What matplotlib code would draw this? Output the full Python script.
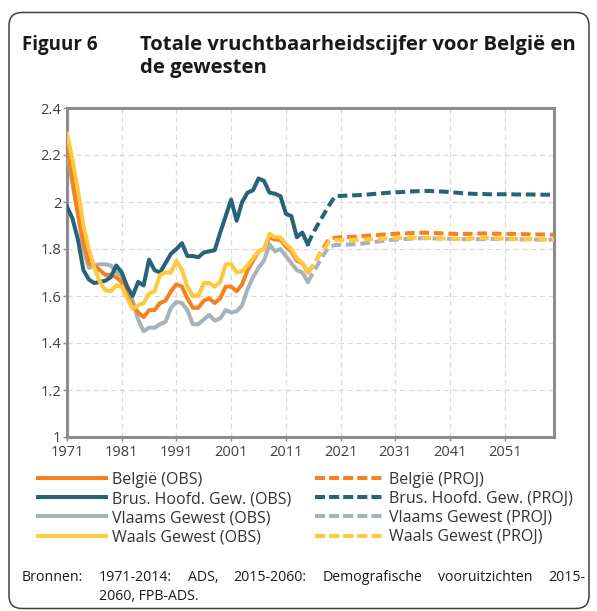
import matplotlib
matplotlib.use("Agg")
import matplotlib.pyplot as plt
from matplotlib.patches import FancyBboxPatch
from matplotlib.lines import Line2D

plt.rcParams['font.family'] = ['Open Sans', 'DejaVu Sans']

# jaren
obs_years = list(range(1971, 2016))
proj_years = list(range(2015, 2061))

# waargenomen (1971-2015)
belgie_obs = [2.25, 2.09, 1.95, 1.83, 1.74, 1.73, 1.71, 1.69, 1.69, 1.68,
              1.66, 1.61, 1.56, 1.53, 1.51, 1.54, 1.54, 1.57, 1.58, 1.62,
              1.65, 1.64, 1.59, 1.55, 1.55, 1.58, 1.59, 1.57, 1.59, 1.64,
              1.64, 1.62, 1.65, 1.71, 1.75, 1.79, 1.80, 1.85, 1.84, 1.84,
              1.81, 1.79, 1.75, 1.74, 1.70]
brussel_obs = [1.98, 1.93, 1.84, 1.71, 1.67, 1.655, 1.66, 1.665, 1.68, 1.73,
               1.70, 1.64, 1.60, 1.66, 1.645, 1.755, 1.71, 1.70, 1.74, 1.78,
               1.80, 1.825, 1.77, 1.77, 1.765, 1.785, 1.79, 1.795, 1.87, 1.94,
               2.01, 1.92, 2.00, 2.04, 2.05, 2.10, 2.09, 2.04, 2.035, 2.025,
               1.95, 1.94, 1.85, 1.87, 1.82]
vlaams_obs = [2.22, 2.08, 1.95, 1.80, 1.72, 1.73, 1.735, 1.735, 1.73, 1.70,
              1.685, 1.64, 1.58, 1.50, 1.45, 1.465, 1.465, 1.48, 1.49, 1.55,
              1.575, 1.57, 1.54, 1.48, 1.48, 1.50, 1.52, 1.495, 1.505, 1.54,
              1.53, 1.535, 1.56, 1.63, 1.68, 1.72, 1.75, 1.82, 1.79, 1.80,
              1.77, 1.74, 1.71, 1.70, 1.66]
waals_obs = [2.29, 2.18, 2.05, 1.90, 1.80, 1.72, 1.66, 1.625, 1.62, 1.645,
             1.64, 1.59, 1.545, 1.56, 1.57, 1.61, 1.62, 1.69, 1.70, 1.70,
             1.75, 1.71, 1.64, 1.60, 1.60, 1.655, 1.655, 1.64, 1.66, 1.735,
             1.735, 1.70, 1.705, 1.73, 1.76, 1.79, 1.80, 1.865, 1.85, 1.85,
             1.82, 1.80, 1.76, 1.74, 1.70]

# vooruitzichten (2015-2060)
belgie_proj = [1.70, 1.73, 1.77, 1.81, 1.845, 1.848, 1.850, 1.851, 1.852, 1.853,
               1.855, 1.857, 1.858, 1.860, 1.862, 1.863, 1.865, 1.866, 1.867, 1.868,
               1.869, 1.869, 1.869, 1.868, 1.867, 1.866, 1.865, 1.864, 1.864, 1.864,
               1.865, 1.866, 1.866, 1.866, 1.865, 1.865, 1.865, 1.864, 1.864, 1.863,
               1.863, 1.862, 1.862, 1.862, 1.861, 1.861]
brussel_proj = [1.82, 1.87, 1.91, 1.95, 1.99, 2.025, 2.026, 2.027, 2.028, 2.029,
                2.030, 2.032, 2.034, 2.036, 2.038, 2.040, 2.041, 2.042, 2.044, 2.045,
                2.046, 2.047, 2.047, 2.046, 2.045, 2.044, 2.042, 2.040, 2.038, 2.036,
                2.035, 2.034, 2.034, 2.033, 2.033, 2.033, 2.033, 2.033, 2.032, 2.032,
                2.032, 2.032, 2.031, 2.031, 2.031, 2.031]
vlaams_proj = [1.66, 1.70, 1.74, 1.78, 1.81, 1.817, 1.818, 1.819, 1.820, 1.821,
               1.823, 1.826, 1.829, 1.832, 1.835, 1.838, 1.840, 1.842, 1.843, 1.844,
               1.845, 1.846, 1.846, 1.845, 1.845, 1.844, 1.843, 1.842, 1.842, 1.842,
               1.842, 1.842, 1.842, 1.843, 1.843, 1.843, 1.843, 1.842, 1.842, 1.841,
               1.841, 1.841, 1.840, 1.840, 1.840, 1.840]
waals_proj = [1.70, 1.73, 1.77, 1.80, 1.835, 1.838, 1.838, 1.838, 1.839, 1.839,
              1.840, 1.841, 1.842, 1.843, 1.844, 1.845, 1.846, 1.847, 1.848, 1.848,
              1.848, 1.848, 1.847, 1.846, 1.845, 1.844, 1.843, 1.843, 1.843, 1.844,
              1.845, 1.846, 1.846, 1.846, 1.845, 1.845, 1.845, 1.844, 1.843, 1.843,
              1.842, 1.842, 1.841, 1.841, 1.840, 1.840]

x_ticks = list(range(1971, 2052, 10))
y_ticks = [1, 1.2, 1.4, 1.6, 1.8, 2, 2.2, 2.4]

c_bel = '#F5821F'
c_bru = '#29637A'
c_vla = '#A8B2BD'
c_waa = '#FFC83D'

fig = plt.figure(figsize=(5.97, 6.11), dpi=100)

# kader rond de figuur
box = FancyBboxPatch((0.09, 0.025), 5.80, 5.96,
                     boxstyle="round,pad=0,rounding_size=0.13",
                     transform=fig.dpi_scale_trans, fill=False,
                     edgecolor='#404040', lw=1.1)
fig.patches.append(box)

fig.text(22 / 597, 1 - 50 / 611, "Figuur 6", fontsize=13.5, fontweight='bold',
         color='#1a1a1a', va='baseline', ha='left')
fig.text(140 / 597, 1 - 50 / 611, "Totale vruchtbaarheidscijfer voor België en",
         fontsize=14.6, fontweight='bold', color='#1a1a1a', va='baseline', ha='left')
fig.text(140 / 597, 1 - 73 / 611, "de gewesten", fontsize=14.6, fontweight='bold',
         color='#1a1a1a', va='baseline', ha='left')

ax = fig.add_axes([67 / 597, 1 - 437 / 611, 487 / 597, 329 / 611])

lw = 2.9
dash = (2.4, 1.2)
ax.plot(proj_years, belgie_proj, color=c_bel, lw=lw, dashes=dash, zorder=3)
ax.plot(proj_years, brussel_proj, color=c_bru, lw=lw, dashes=dash, zorder=3)
ax.plot(proj_years, vlaams_proj, color=c_vla, lw=lw, dashes=dash, zorder=2)
ax.plot(proj_years, waals_proj, color=c_waa, lw=lw, dashes=dash, zorder=4)

ax.plot(obs_years, vlaams_obs, color=c_vla, lw=lw, zorder=5)
ax.plot(obs_years, belgie_obs, color=c_bel, lw=lw, zorder=6)
ax.plot(obs_years, brussel_obs, color=c_bru, lw=lw, zorder=7)
ax.plot(obs_years, waals_obs, color=c_waa, lw=lw, zorder=8)

ax.set_xlim(1971, 2060)
ax.set_ylim(1, 2.4)
ax.set_xticks(x_ticks)
ax.set_xticklabels([str(t) for t in x_ticks])
ax.set_yticks(y_ticks)
ax.set_yticklabels(['%g' % t for t in y_ticks])

ax.grid(True, color='#d9d9d9', linestyle=(0, (4, 3)), lw=0.9)
ax.set_axisbelow(True)
for s in ax.spines.values():
    s.set_color('#8c8c8c')
    s.set_linewidth(2.2)
ax.tick_params(axis='both', colors='#8c8c8c', labelcolor='#404040',
               labelsize=10.5, length=3, width=1, pad=1)
ax.tick_params(axis='x', pad=3)

handles = [
    Line2D([], [], color=c_bel, lw=lw),
    Line2D([], [], color=c_bru, lw=lw),
    Line2D([], [], color=c_vla, lw=lw),
    Line2D([], [], color=c_waa, lw=lw),
    Line2D([], [], color=c_bel, lw=lw, dashes=(2.5, 1.0)),
    Line2D([], [], color=c_bru, lw=lw, dashes=(2.5, 1.0)),
    Line2D([], [], color=c_vla, lw=lw, dashes=(2.5, 1.0)),
    Line2D([], [], color=c_waa, lw=lw, dashes=(2.5, 1.0)),
]
labels = ["België (OBS)", "Brus. Hoofd. Gew. (OBS)", "Vlaams Gewest (OBS)",
          "Waals Gewest (OBS)", "België (PROJ)", "Brus. Hoofd. Gew. (PROJ)",
          "Vlaams Gewest (PROJ)", "Waals Gewest (PROJ)"]
leg = fig.legend(handles, labels, ncol=2, loc='upper left',
                 bbox_to_anchor=(38 / 597, 1 - 472 / 611), frameon=False,
                 fontsize=11.5, handlelength=4.25, handletextpad=0.38,
                 columnspacing=1.5, labelspacing=0.19, borderpad=0,
                 borderaxespad=0)
for t in leg.get_texts():
    t.set_color('#333333')

# bronvermelding, eerste regel uitgevuld
fig.text(22 / 597, 1 - 581 / 611, "Bronnen:", fontsize=10.2, color='#1a1a1a',
         va='baseline')
words = "1971-2014: ADS, 2015-2060: Demografische vooruitzichten 2015-".split()
renderer = fig.canvas.get_renderer()
texts = [fig.text(0, 1 - 581 / 611, w, fontsize=10.2, color='#1a1a1a', va='baseline')
         for w in words]
widths = [t.get_window_extent(renderer).width for t in texts]
x0, x1 = 99.0, 585.0
gap = (x1 - x0 - sum(widths)) / (len(words) - 1)
x = x0
for t, w in zip(texts, widths):
    t.set_x(x / 597)
    x += w + gap
fig.text(99 / 597, 1 - 600 / 611, "2060, FPB-ADS.", fontsize=10.2, color='#1a1a1a',
         va='baseline')

fig.savefig("out.png", dpi=100)
